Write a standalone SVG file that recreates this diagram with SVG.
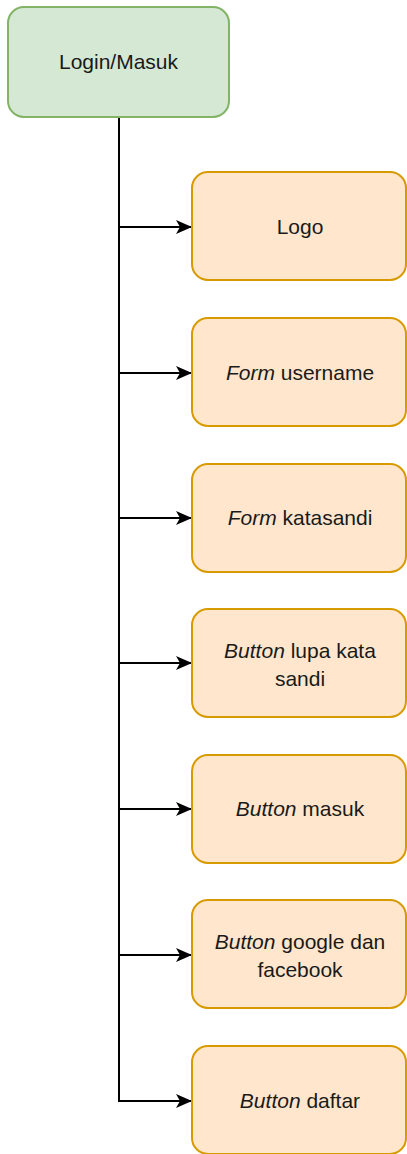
<svg xmlns="http://www.w3.org/2000/svg" width="407" height="1154" viewBox="0 0 407 1154">
<style>
.root{fill:#d5e8d4;stroke:#82b366;stroke-width:2}
.leaf{fill:#ffe6cc;stroke:#d79b00;stroke-width:2}
text{font-family:"Liberation Sans",Arial,sans-serif;font-size:21px;fill:#1a1a1a;text-anchor:middle}
.i{font-style:italic}
.edge{fill:none;stroke:#000;stroke-width:2}
</style>
<defs>
<marker id="arr" viewBox="0 0 16 14" refX="15" refY="7" markerWidth="16" markerHeight="14" markerUnits="userSpaceOnUse" orient="auto">
<path d="M0,0 L16,7 L0,14 L4,7 Z" fill="#000"/>
</marker>
</defs>
<g id="connectors">
<path class="edge" d="M119,117 V1101 H191" marker-end="url(#arr)"/>
<path class="edge" d="M119,227 H191" marker-end="url(#arr)"/>
<path class="edge" d="M119,373 H191" marker-end="url(#arr)"/>
<path class="edge" d="M119,518 H191" marker-end="url(#arr)"/>
<path class="edge" d="M119,663 H191" marker-end="url(#arr)"/>
<path class="edge" d="M119,809 H191" marker-end="url(#arr)"/>
<path class="edge" d="M119,955 H191" marker-end="url(#arr)"/>
</g>
<g id="login"><rect class="root" x="8" y="7" width="221" height="110" rx="16"/><text x="118.5" y="69">Login/Masuk</text></g>
<g id="logo"><rect class="leaf" x="192" y="172" width="214" height="108" rx="16"/><text x="300" y="234">Logo</text></g>
<g id="form-username"><rect class="leaf" x="192" y="318" width="214" height="108" rx="16"/><text x="300" y="380"><tspan class="i">Form</tspan> username</text></g>
<g id="form-katasandi"><rect class="leaf" x="192" y="464" width="214" height="108" rx="16"/><text x="300" y="525"><tspan class="i">Form</tspan> katasandi</text></g>
<g id="button-lupa"><rect class="leaf" x="192" y="609" width="214" height="108" rx="16"/><text x="300" y="658"><tspan class="i">Button</tspan> lupa kata</text><text x="300" y="686">sandi</text></g>
<g id="button-masuk"><rect class="leaf" x="192" y="755" width="214" height="108" rx="16"/><text x="300" y="816"><tspan class="i">Button</tspan> masuk</text></g>
<g id="button-google"><rect class="leaf" x="192" y="900" width="214" height="108" rx="16"/><text x="300" y="949"><tspan class="i">Button</tspan> google dan</text><text x="300" y="977">facebook</text></g>
<g id="button-daftar"><rect class="leaf" x="192" y="1046" width="214" height="108" rx="16"/><text x="300" y="1108"><tspan class="i">Button</tspan> daftar</text></g>
</svg>
